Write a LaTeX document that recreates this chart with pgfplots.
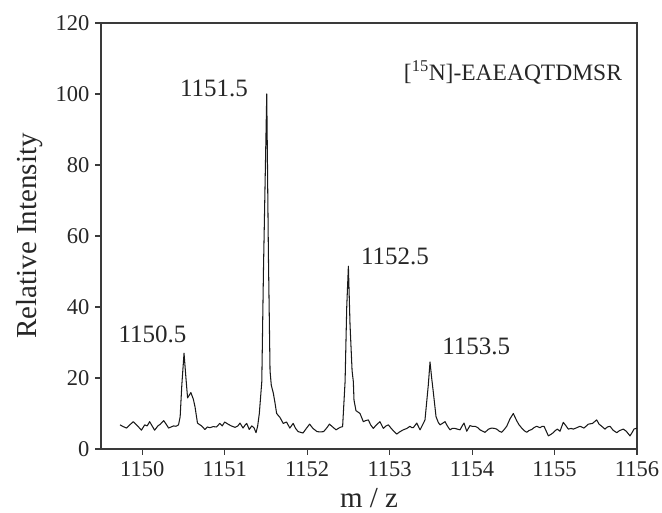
\documentclass[border=0pt]{standalone}
\usepackage{fontspec}
\setmainfont{Liberation Serif}
\usepackage{pgfplots}
\pgfplotsset{compat=1.18}
\definecolor{framec}{HTML}{3A3A3A}
\begin{document}
\begin{tikzpicture}
\begin{axis}[
  at={(0pt,0pt)}, anchor=south west,
  scale only axis, width=536pt, height=426pt,
  xmin=1149.5, xmax=1156, ymin=0, ymax=120,
  xtick={1150,1151,...,1156}, ytick={0,20,...,120},
  xtick pos=lower, ytick pos=left, tick align=outside,
  major tick length=6pt,
  axis line style={framec, line width=1.1pt},
  every tick/.style={framec, line width=1.1pt},
  /pgf/number format/assume math mode=true,
  /pgf/number format/1000 sep={},
  tick label style={font=\fontsize{22.5}{26}\selectfont, text=black!85},
  xticklabel style={yshift=-3pt},
  yticklabel style={xshift=-2pt},
  xlabel={m / z}, ylabel={Relative Intensity},
  label style={font=\fontsize{29}{34}\selectfont, text=black!85},
  xlabel style={at={(axis description cs:0.5,0)}, anchor=base, yshift=-59pt},
  ylabel style={at={(axis description cs:0,0.5)}, anchor=base, yshift=64pt},
  clip=false,
]
\addplot[black!90, line width=1.05pt, line join=round] coordinates {
(1149.73,6.8)(1149.77,6.3)(1149.81,5.9)(1149.85,6.8)(1149.89,7.7)(1149.94,6.6)
(1149.99,5.3)(1150.03,6.8)(1150.06,6.5)(1150.09,7.7)(1150.12,6.5)(1150.15,5.3)
(1150.19,6.5)(1150.22,7.0)(1150.26,8.0)(1150.29,7.0)(1150.32,5.9)(1150.35,6.2)
(1150.38,6.5)(1150.41,6.4)(1150.44,6.8)(1150.46,9.1)(1150.48,18)(1150.507,27)
(1150.53,20)(1150.55,14.4)(1150.59,15.9)(1150.62,14)(1150.64,11.9)(1150.67,7.3)
(1150.70,6.8)(1150.72,6.5)(1150.76,5.5)(1150.79,6.2)(1150.82,6.0)(1150.86,6.3)
(1150.90,6.2)(1150.94,7.2)(1150.97,6.5)(1151.00,7.6)(1151.04,7.0)(1151.08,6.5)
(1151.125,6.1)(1151.16,6.5)(1151.186,7.3)(1151.222,5.9)(1151.25,6.8)(1151.267,7.2)
(1151.298,5.5)(1151.328,6.5)(1151.355,6.0)(1151.38,4.6)(1151.40,6.5)(1151.42,10)
(1151.45,19)(1151.47,50)(1151.51,100)(1151.53,55)(1151.55,22)(1151.565,18)
(1151.59,15.7)(1151.61,13)(1151.63,10)(1151.67,8.9)(1151.71,7.2)(1151.75,7.6)
(1151.79,5.9)(1151.83,7.2)(1151.86,5.8)(1151.89,4.9)(1151.95,4.5)(1151.99,5.8)
(1152.03,7.0)(1152.07,5.8)(1152.12,4.9)(1152.16,4.8)(1152.20,4.9)(1152.24,6.0)
(1152.27,7.0)(1152.31,6.2)(1152.35,5.4)(1152.40,6.1)(1152.43,6.3)(1152.46,19)
(1152.48,40)(1152.50,51.5)(1152.52,35)(1152.545,22)(1152.56,19)(1152.568,13.8)
(1152.592,10.8)(1152.641,10.0)(1152.681,7.7)(1152.71,8.0)(1152.742,8.2)(1152.77,6.8)
(1152.802,5.8)(1152.84,6.8)(1152.883,7.7)(1152.924,5.8)(1152.95,6.4)(1152.984,6.8)
(1153.02,5.8)(1153.05,5.0)(1153.086,4.2)(1153.12,4.8)(1153.166,5.4)(1153.21,5.8)
(1153.247,6.4)(1153.27,6.0)(1153.287,6.0)(1153.329,7.3)(1153.369,5.4)(1153.40,6.8)
(1153.429,8.2)(1153.469,18)(1153.49,24.5)(1153.51,20)(1153.53,16)(1153.563,9.1)
(1153.59,7.5)(1153.611,6.8)(1153.64,7.2)(1153.672,7.7)(1153.70,6.5)(1153.732,5.4)
(1153.76,5.8)(1153.793,5.8)(1153.82,5.6)(1153.854,5.4)(1153.88,6.5)(1153.902,7.3)
(1153.935,5.0)(1153.975,6.6)(1154.00,6.4)(1154.036,6.4)(1154.07,6.0)(1154.096,5.4)
(1154.13,5.0)(1154.157,4.7)(1154.20,5.6)(1154.238,5.9)(1154.27,5.8)(1154.299,5.6)
(1154.33,5.0)(1154.359,4.7)(1154.39,5.5)(1154.420,6.4)(1154.46,8.5)(1154.50,10)
(1154.54,8.0)(1154.57,6.8)(1154.602,5.9)(1154.63,5.2)(1154.663,4.7)(1154.69,5.2)
(1154.723,5.5)(1154.75,6.0)(1154.784,6.4)(1154.824,6.0)(1154.85,6.4)(1154.872,6.4)
(1154.90,5.0)(1154.925,3.7)(1154.955,4.1)(1154.985,4.6)(1155.01,5.2)(1155.034,5.6)
(1155.066,5.0)(1155.106,7.5)(1155.14,6.5)(1155.167,5.6)(1155.20,5.8)(1155.228,5.6)
(1155.27,6.0)(1155.309,6.4)(1155.357,5.9)(1155.41,7.0)(1155.46,7.2)(1155.511,8.2)
(1155.54,7.0)(1155.572,6.4)(1155.612,5.6)(1155.64,6.2)(1155.673,6.4)(1155.71,5.3)
(1155.754,4.6)(1155.79,5.2)(1155.834,5.6)(1155.87,5.0)(1155.915,3.7)(1155.94,4.6)
(1155.963,5.6)(1156.0,5.9)
};
\node[anchor=base, font=\fontsize{25}{30}\selectfont, text=black!85] at (axis cs:1150.125,30.1) {1150.5};
\node[anchor=base, font=\fontsize{25}{30}\selectfont, text=black!85] at (axis cs:1150.87,99.2) {1151.5};
\node[anchor=base, font=\fontsize{25}{30}\selectfont, text=black!85] at (axis cs:1153.065,52.1) {1152.5};
\node[anchor=base, font=\fontsize{25}{30}\selectfont, text=black!85] at (axis cs:1154.05,26.5) {1153.5};
\node[anchor=base east, font=\fontsize{23.5}{28}\selectfont, text=black!85, inner sep=0pt] at (axis cs:1155.82,103.9) {[\textsuperscript{15}N]-EAEAQTDMSR};
\end{axis}
\pgfresetboundingbox
\path[use as bounding box] (-101pt,-64pt) rectangle (561pt,449pt);
\end{tikzpicture}
\end{document}
